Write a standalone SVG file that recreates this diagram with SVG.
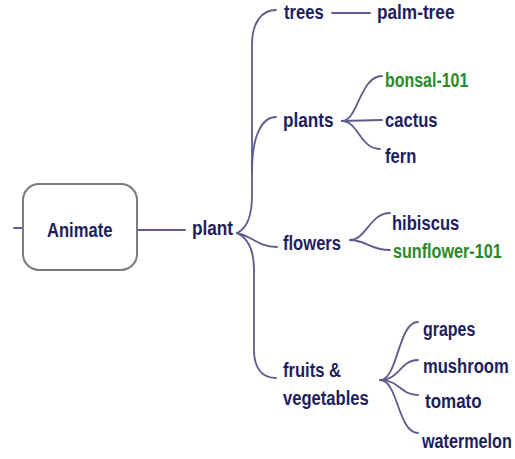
<svg xmlns="http://www.w3.org/2000/svg" width="515" height="459" viewBox="0 0 515 459">
<style>
.t{font-family:"Liberation Sans",Arial,sans-serif;font-weight:bold;font-size:21px;fill:#1e1e5e}
.g{fill:#2a8a2a}
.c{fill:none;stroke:#5c5c8e;stroke-width:1.8;stroke-linecap:round}
</style>
<rect width="515" height="459" fill="#ffffff"/>
<g id="connectors">
<path class="c" d="M14,228 L23,228"/>
<path class="c" d="M137,230 L185,230"/>
<path class="c" d="M237,233 C248,228 252,215 252,195 L252,45 C252,22 262,10 276,10"/>
<path class="c" d="M252,172 C252,135 262,117 276,117"/>
<path class="c" d="M237,233 C252,236 258,247 277,247"/>
<path class="c" d="M237,233 C248,238 254,250 254,270 L254,350 C254,368 262,378 276,378"/>
<path class="c" d="M332,13 L370,13"/>
<path class="c" d="M342,121 C358,121 360,76 382,76"/>
<path class="c" d="M342,121 L382,120"/>
<path class="c" d="M342,121 C358,121 360,149 380,149"/>
<path class="c" d="M350,240 C366,240 370,213 390,213"/>
<path class="c" d="M350,240 C366,240 370,250 390,250"/>
<path class="c" d="M380,380 C398,380 398,322 418,322"/>
<path class="c" d="M380,380 C400,380 400,360 418,360"/>
<path class="c" d="M380,380 C400,380 400,395 418,395"/>
<path class="c" d="M380,380 C398,380 398,433 418,433"/>
</g>
<g id="animate">
<rect x="23" y="184" width="114" height="86" rx="16" fill="#fff" stroke="#7a7a7a" stroke-width="2"/>
<text class="t" transform="translate(47 237) scale(0.79 1)">Animate</text>
</g>
<g id="plant"><text class="t" transform="translate(192 235) scale(0.82 1)">plant</text></g>
<g id="trees"><text class="t" transform="translate(284 19) scale(0.79 1)">trees</text></g>
<g id="palm-tree"><text class="t" transform="translate(377 19) scale(0.82 1)">palm-tree</text></g>
<g id="plants"><text class="t" transform="translate(283 127) scale(0.82 1)">plants</text></g>
<g id="bonsal-101"><text class="t g" transform="translate(385 87) scale(0.76 1)">bonsal-101</text></g>
<g id="cactus"><text class="t" transform="translate(385 127) scale(0.79 1)">cactus</text></g>
<g id="fern"><text class="t" transform="translate(385 163) scale(0.79 1)">fern</text></g>
<g id="flowers"><text class="t" transform="translate(283 250) scale(0.79 1)">flowers</text></g>
<g id="hibiscus"><text class="t" transform="translate(392 230) scale(0.79 1)">hibiscus</text></g>
<g id="sunflower-101"><text class="t g" transform="translate(393 258) scale(0.77 1)">sunflower-101</text></g>
<g id="fruits-vegetables">
<text class="t" transform="translate(283 377) scale(0.79 1)">fruits &amp;</text>
<text class="t" transform="translate(283 405) scale(0.79 1)">vegetables</text>
</g>
<g id="grapes"><text class="t" transform="translate(423 336) scale(0.76 1)">grapes</text></g>
<g id="mushroom"><text class="t" transform="translate(423 373) scale(0.79 1)">mushroom</text></g>
<g id="tomato"><text class="t" transform="translate(425 408) scale(0.81 1)">tomato</text></g>
<g id="watermelon"><text class="t" transform="translate(422 448) scale(0.77 1)">watermelon</text></g>
</svg>
